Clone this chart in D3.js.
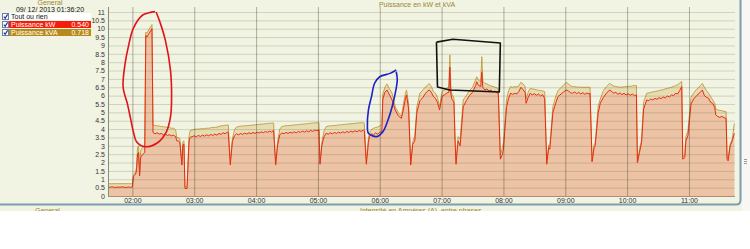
<!DOCTYPE html>
<html>
    <head>
        <meta charset="utf-8">
        <title></title>
        <style media="screen">
            body { margin: 0; background: #fff; }
            svg text { font-family: "Liberation Sans", Arial, sans-serif; font-size: 7px; }
            svg .kva-fill { fill: #e6ddb3; stroke: none; }
            svg .kw-fill { fill: #edc3a5; stroke: none; }
            svg .kva-line { fill: none; stroke: #c6a24c; stroke-width: 1; }
            svg .kw-line { fill: none; stroke: #ee2a14; stroke-width: 1; }
            svg .hgrid line { stroke: rgba(90, 90, 50, .22); }
            svg .vgrid line { stroke: rgba(60, 60, 40, .38); }
            svg .hgrid path, svg .vgrid path, svg .axis path { display: none; }
            svg .axis text { fill: #333; }
            svg .olive { fill: #9a8630; }
            svg .loop { fill: none; stroke-width: 1.6; stroke-linejoin: round; }
        </style>
    </head>
    <body>
        <svg class='drawing'></svg>

        <script src="https://d3js.org/d3.v7.min.js" charset="utf-8"></script>
        <script>
            // [time, kW, kVA]
            var readings = [
                ["01:36", .54, .72], ["01:38", .52, .74], ["01:40", .55, .73], ["01:42", .53, .74],
                ["01:44", .51, .73], ["01:46", .54, .74], ["01:48", .52, .73], ["01:50", .55, .74],
                ["01:52", .53, .74], ["01:54", .51, .73], ["01:56", .54, .74], ["01:58", .52, .73],
                ["02:00", .54, .74], ["02:01", 1.15, 1.3], ["02:02", 1.22, 1.35], ["02:03", 1.3, 1.45],
                ["02:04", 1.5, 1.7], ["02:05", 2.5, 2.9], ["02:06", 2.6, 3.0], ["02:07", 1.2, 1.35],
                ["02:08", 2.3, 2.7], ["02:09", 2.4, 2.85], ["02:11", 2.55, 2.95], ["02:12", 2.6, 3.0],
                ["02:13", 9.6, 9.8], ["02:14", 9.5, 9.72], ["02:16", 9.7, 9.95], ["02:19", 10.0, 10.25],
                ["02:20", 3.8, 4.25], ["02:22", 3.72, 4.2], ["02:24", 3.78, 4.2], ["02:26", 3.7, 4.18],
                ["02:28", 3.74, 4.15], ["02:30", 3.66, 4.15], ["02:32", 3.7, 4.12], ["02:34", 3.62, 4.1],
                ["02:36", 3.66, 4.1], ["02:38", 3.6, 4.05], ["02:40", 3.63, 4.05], ["02:42", 3.55, 3.95],
                ["02:43", 3.3, 3.5], ["02:45", 3.28, 3.48], ["02:46", 3.22, 3.45], ["02:48", 1.85, 2.0],
                ["02:49", 3.05, 3.25], ["02:50", 3.1, 3.3], ["02:51", .45, .55], ["02:53", .45, .55],
                ["02:55", 3.3, 3.6], ["02:56", 3.5, 3.9], ["02:58", 3.55, 3.95], ["03:00", 3.6, 3.98],
                ["03:02", 3.54, 4.0], ["03:04", 3.62, 4.0], ["03:06", 3.56, 4.02], ["03:08", 3.64, 4.02],
                ["03:10", 3.58, 4.03], ["03:12", 3.66, 4.05], ["03:14", 3.6, 4.05], ["03:16", 3.68, 4.08],
                ["03:18", 3.62, 4.1], ["03:20", 3.7, 4.1], ["03:22", 3.64, 4.12], ["03:24", 3.74, 4.15],
                ["03:26", 3.68, 4.2], ["03:28", 3.78, 4.2], ["03:30", 3.72, 4.22], ["03:32", 3.82, 4.25],
                ["03:33", 3.8, 4.25], ["03:35", 1.85, 2.05], ["03:37", 3.25, 3.4], ["03:39", 3.6, 3.95],
                ["03:41", 3.72, 4.12], ["03:43", 3.66, 4.15], ["03:45", 3.74, 4.18], ["03:47", 3.68, 4.18],
                ["03:49", 3.76, 4.2], ["03:51", 3.7, 4.2], ["03:53", 3.78, 4.22], ["03:55", 3.72, 4.22],
                ["03:57", 3.8, 4.25], ["03:59", 3.74, 4.25], ["04:01", 3.82, 4.27], ["04:03", 3.76, 4.28],
                ["04:05", 3.84, 4.3], ["04:07", 3.78, 4.3], ["04:09", 3.86, 4.32], ["04:11", 3.8, 4.33],
                ["04:13", 3.88, 4.35], ["04:15", 3.82, 4.35], ["04:17", 3.92, 4.36], ["04:19", 1.85, 1.95],
                ["04:21", 3.1, 3.3], ["04:23", 3.65, 4.0], ["04:25", 3.78, 4.15], ["04:27", 3.72, 4.18],
                ["04:29", 3.8, 4.2], ["04:31", 3.74, 4.2], ["04:33", 3.82, 4.22], ["04:35", 3.76, 4.23],
                ["04:37", 3.84, 4.25], ["04:39", 3.78, 4.25], ["04:41", 3.86, 4.27], ["04:43", 3.8, 4.28],
                ["04:45", 3.88, 4.3], ["04:47", 3.82, 4.3], ["04:49", 3.9, 4.32], ["04:51", 3.84, 4.33],
                ["04:53", 3.92, 4.35], ["04:55", 3.86, 4.36], ["04:57", 3.94, 4.37], ["04:59", 3.9, 4.38],
                ["05:01", 3.96, 4.38], ["05:02", 1.9, 1.95], ["05:04", 3.1, 3.3], ["05:06", 3.55, 3.9],
                ["05:08", 3.75, 4.15], ["05:10", 3.7, 4.18], ["05:12", 3.78, 4.2], ["05:14", 3.72, 4.2],
                ["05:16", 3.8, 4.22], ["05:18", 3.74, 4.22], ["05:20", 3.82, 4.25], ["05:22", 3.76, 4.25],
                ["05:24", 3.84, 4.27], ["05:26", 3.78, 4.28], ["05:28", 3.86, 4.3], ["05:30", 3.8, 4.3],
                ["05:32", 3.88, 4.32], ["05:34", 3.82, 4.33], ["05:36", 3.9, 4.35], ["05:38", 3.84, 4.35],
                ["05:40", 3.92, 4.37], ["05:42", 3.86, 4.38], ["05:44", 3.95, 4.38], ["05:45", 3.9, 4.35],
                ["05:47", 1.9, 2.05], ["05:49", 3.2, 3.45], ["05:50", 3.55, 3.75], ["05:52", 3.72, 3.98],
                ["05:54", 3.66, 4.05], ["05:56", 3.78, 4.1], ["05:58", 3.7, 4.12], ["06:00", 3.82, 4.2],
                ["06:02", 3.85, 4.25], ["06:03", 5.8, 6.1], ["06:05", 6.2, 6.5], ["06:07", 6.34, 6.7],
                ["06:09", 6.1, 6.45], ["06:12", 5.74, 6.14], ["06:15", 5.14, 5.34], ["06:18", 4.8, 5.0],
                ["06:21", 4.64, 4.74], ["06:23", 5.2, 5.5], ["06:25", 5.85, 6.15], ["06:26", 6.04, 6.34],
                ["06:28", 5.2, 5.5], ["06:30", 1.85, 1.95], ["06:32", 3.1, 3.25], ["06:34", 3.3, 3.6],
                ["06:36", 5.0, 5.34], ["06:39", 5.7, 6.15], ["06:42", 5.9, 6.35], ["06:44", 6.1, 6.5],
                ["06:46", 6.25, 6.6], ["06:48", 6.34, 6.73], ["06:50", 6.2, 6.55], ["06:52", 5.95, 6.25],
                ["06:54", 5.84, 6.14], ["06:56", 5.6, 5.9], ["06:58", 5.14, 5.34], ["07:00", 5.8, 6.1],
                ["07:01", 6.0, 6.3], ["07:03", 6.05, 6.35], ["07:05", 6.15, 6.45], ["07:07", 6.2, 6.5],
                ["07:08", 7.7, 8.43], ["07:09", 6.1, 6.4], ["07:10", 5.8, 6.1], ["07:12", 5.6, 5.85],
                ["07:13", 3.4, 3.6], ["07:14", 1.9, 2.1], ["07:16", 3.3, 3.55], ["07:18", 3.0, 3.4],
                ["07:21", 5.34, 5.74], ["07:24", 5.7, 6.0], ["07:27", 6.0, 6.3], ["07:30", 6.2, 6.5],
                ["07:33", 6.6, 6.95], ["07:34", 6.83, 7.13], ["07:36", 6.6, 6.9], ["07:38", 6.55, 6.83],
                ["07:39", 7.4, 8.33], ["07:40", 6.5, 6.85], ["07:42", 6.34, 6.73], ["07:44", 6.4, 6.7],
                ["07:46", 6.28, 6.62], ["07:48", 6.34, 6.58], ["07:50", 6.22, 6.55], ["07:52", 6.28, 6.5],
                ["07:54", 6.14, 6.45], ["07:55", 6.14, 6.43], ["07:57", 2.2, 2.45], ["07:59", 2.5, 2.9],
                ["08:00", 2.8, 3.2], ["08:03", 5.3, 5.74], ["08:05", 5.85, 6.3], ["08:07", 6.14, 6.54],
                ["08:09", 6.08, 6.5], ["08:11", 6.14, 6.54], ["08:13", 6.1, 6.52], ["08:15", 6.25, 6.6],
                ["08:17", 6.5, 6.8], ["08:19", 6.35, 6.7], ["08:21", 6.2, 6.55], ["08:22", 5.54, 5.8],
                ["08:24", 5.9, 6.2], ["08:26", 6.14, 6.43], ["08:28", 6.05, 6.4], ["08:30", 6.12, 6.38],
                ["08:32", 6.02, 6.35], ["08:34", 6.1, 6.32], ["08:36", 5.98, 6.3], ["08:38", 6.06, 6.28],
                ["08:40", 5.84, 6.24], ["08:42", 1.9, 2.15], ["08:44", 2.9, 3.05], ["08:45", 2.8, 3.0],
                ["08:48", 5.0, 5.34], ["08:51", 5.6, 6.0], ["08:53", 5.95, 6.3], ["08:56", 6.1, 6.5],
                ["08:58", 6.2, 6.6], ["09:01", 6.34, 6.8], ["09:03", 6.28, 6.7], ["09:05", 6.18, 6.6],
                ["09:07", 6.14, 6.54], ["09:09", 6.22, 6.54], ["09:11", 6.12, 6.52], ["09:13", 6.2, 6.5],
                ["09:15", 6.1, 6.5], ["09:17", 6.18, 6.5], ["09:19", 6.08, 6.5], ["09:21", 6.16, 6.5],
                ["09:23", 6.1, 6.5], ["09:24", 6.14, 6.5], ["09:26", 2.05, 2.1], ["09:28", 2.9, 3.1],
                ["09:29", 3.0, 3.15], ["09:32", 5.0, 5.4], ["09:34", 5.55, 5.8], ["09:37", 5.9, 6.3],
                ["09:40", 6.15, 6.55], ["09:43", 6.34, 6.73], ["09:45", 6.25, 6.65], ["09:47", 6.15, 6.58],
                ["09:49", 6.2, 6.55], ["09:51", 6.08, 6.52], ["09:53", 6.16, 6.5], ["09:55", 6.06, 6.52],
                ["09:57", 6.14, 6.52], ["09:59", 6.04, 6.54], ["10:01", 6.12, 6.55], ["10:03", 6.02, 6.56],
                ["10:05", 6.1, 6.58], ["10:07", 6.0, 6.6], ["10:09", 6.05, 6.6], ["10:10", 2.0, 2.0],
                ["10:12", 2.6, 2.8], ["10:14", 3.2, 3.35], ["10:16", 5.2, 5.6], ["10:19", 5.74, 6.14],
                ["10:21", 5.7, 6.16], ["10:23", 5.8, 6.2], ["10:25", 5.74, 6.22], ["10:27", 5.84, 6.25],
                ["10:29", 5.78, 6.27], ["10:31", 5.88, 6.3], ["10:33", 5.82, 6.33], ["10:35", 5.92, 6.35],
                ["10:37", 5.86, 6.4], ["10:39", 5.98, 6.43], ["10:41", 5.92, 6.47], ["10:43", 6.04, 6.5],
                ["10:45", 6.0, 6.55], ["10:47", 6.14, 6.6], ["10:49", 6.1, 6.65], ["10:51", 6.3, 6.75],
                ["10:53", 6.54, 6.85], ["10:54", 2.2, 2.3], ["10:56", 2.3, 2.5], ["10:57", 3.3, 3.55],
                ["10:59", 3.6, 3.9], ["11:02", 5.5, 5.9], ["11:05", 5.85, 6.2], ["11:07", 5.95, 6.35],
                ["11:09", 6.1, 6.45], ["11:11", 6.2, 6.6], ["11:13", 6.34, 6.73], ["11:15", 6.0, 6.5],
                ["11:17", 5.9, 6.3], ["11:19", 5.85, 6.15], ["11:21", 5.6, 5.95], ["11:23", 5.54, 5.74],
                ["11:25", 5.3, 5.55], ["11:26", 4.85, 5.2], ["11:28", 4.74, 5.14], ["11:30", 4.7, 5.12],
                ["11:32", 4.76, 5.1], ["11:34", 4.68, 5.06], ["11:36", 4.64, 5.04], ["11:37", 2.2, 2.26],
                ["11:38", 2.1, 2.3], ["11:40", 3.0, 3.1], ["11:42", 3.3, 3.4], ["11:44", 3.75, 4.34]
            ];

            var yTicks = [0, .5, 1, 1.5, 2, 2.5, 3, 3.5, 4, 4.5, 5, 5.5, 6, 6.5, 7, 7.5, 8, 8.5, 9, 9.5, 10, 10.5, 11];
            var xTicks = ["02:00", "03:00", "04:00", "05:00", "06:00", "07:00", "08:00", "09:00", "10:00", "11:00"];
            var timeSpan = ["01:36:20", "11:44:40"];
            var seriesNames = ["Puissance kW", "Puissance kVA"];
            var cursorValues = [0.540, 0.718];
            var cursorTime = "09/ 12/ 2013 01:36:20";
            var chartTitle = "Puissance en kW et kVA";
            var panelTitle = "General";
            var nextChartTitle = "Intensité en Ampères (A), entre phases";

            // hand drawn marks on the screenshot, in data units
            var redLoop = [["02:22", 11.02], ["02:16", 10.95], ["02:10", 10.82], ["02:01", 10.04], ["01:56", 8.9],
                ["01:53", 7.95], ["01:51", 6.5], ["01:55", 5.55], ["01:58", 4.7], ["02:01", 3.83], ["02:04", 3.25],
                ["02:12", 2.95], ["02:24", 3.17], ["02:33", 3.84], ["02:37", 4.74], ["02:38", 5.74], ["02:37", 7.5],
                ["02:32", 9.3], ["02:27", 10.35], ["02:23", 11.0]];
            var blueLoop = [["06:16", 7.53], ["06:10", 7.33], ["06:00", 7.13], ["05:55", 6.74], ["05:52", 5.94],
                ["05:49", 5.14], ["05:48", 4.14], ["05:49", 3.75], ["05:57", 3.55], ["06:03", 3.84], ["06:08", 4.54],
                ["06:12", 5.34], ["06:15", 6.14], ["06:17", 6.93], ["06:16", 7.43]];
            var blackBox = [["06:55", 9.2], ["07:11", 9.37], ["07:57", 9.15], ["07:56", 6.22], ["07:08", 6.34],
                ["06:56", 6.52], ["06:55", 9.2]];

            var w = 750;
            var h = 249;
            var parse = d3.timeParse("%H:%M");
            var parseS = d3.timeParse("%H:%M:%S");

            var x = d3.scaleTime()
                .domain(timeSpan.map(parseS))
                .range([108, 735]);
            var y = d3.scaleLinear()
                .domain([0, 11])
                .range([196, 12]);

            var rows = readings.map(r => ({t: parse(r[0]), kw: r[1], kva: r[2]}));

            var svg = d3.select('.drawing')
                .attr('width', w)
                .attr('height', h);

            svg.append('rect')
                .attr('width', w).attr('height', 211)
                .attr('fill', '#f1f4e2');

            svg.append('defs').append('clipPath').attr('id', 'plot')
                .append('rect')
                .attr('x', x.range()[0]).attr('y', 0)
                .attr('width', x.range()[1] - x.range()[0]).attr('height', y(0));

            var plot = svg.append('g').attr('clip-path', 'url(#plot)');
            plot.append('path').datum(rows)
                .attr('class', 'kva-fill')
                .attr('d', d3.area().x(d => x(d.t)).y0(y(0)).y1(d => y(d.kva)));
            plot.append('path').datum(rows)
                .attr('class', 'kw-fill')
                .attr('d', d3.area().x(d => x(d.t)).y0(y(0)).y1(d => y(d.kw)));

            // grid over the fills
            svg.append('g')
                .attr('class', 'hgrid')
                .attr('transform', 'translate(' + x.range()[0] + ',0)')
                .call(d3.axisLeft(y).tickValues(yTicks)
                    .tickSize(-(x.range()[1] - x.range()[0])).tickFormat(''));
            svg.append('g')
                .attr('class', 'vgrid')
                .attr('transform', 'translate(0,' + y(0) + ')')
                .call(d3.axisBottom(x).tickValues(xTicks.map(parse))
                    .tickSize(-(y(0) - 7)).tickFormat(''));

            plot.append('path').datum(rows)
                .attr('class', 'kva-line')
                .attr('d', d3.line().x(d => x(d.t)).y(d => y(d.kva)));
            plot.append('path').datum(rows)
                .attr('class', 'kw-line')
                .attr('d', d3.line().x(d => x(d.t)).y(d => y(d.kw)));

            // axes
            svg.append('line')
                .attr('x1', x.range()[0] + .5).attr('x2', x.range()[0] + .5)
                .attr('y1', 7).attr('y2', y(0))
                .attr('stroke', '#8a8a78');
            svg.append('line')
                .attr('x1', x.range()[0]).attr('x2', x.range()[1])
                .attr('y1', y(0) + .5).attr('y2', y(0) + .5)
                .attr('stroke', '#b08c70');

            svg.append('g')
                .attr('class', 'axis')
                .attr('transform', 'translate(' + x.range()[0] + ',0)')
                .call(d3.axisLeft(y).tickValues(yTicks).tickSize(0).tickPadding(3).tickFormat(d => String(d)));
            svg.append('g')
                .attr('class', 'axis')
                .attr('transform', 'translate(0,' + y(0) + ')')
                .call(d3.axisBottom(x).tickValues(xTicks.map(parse)).tickSize(0).tickPadding(2)
                    .tickFormat(d3.timeFormat("%H:%M")));
            svg.selectAll('.axis .tick text').attr('fill', '#333');

            svg.append('text')
                .attr('class', 'olive')
                .attr('x', 417).attr('y', 7)
                .attr('text-anchor', 'middle')
                .text(chartTitle);

            // annotations
            var ann = d3.line().x(d => x(parse(d[0]))).y(d => y(d[1]));
            svg.append('path').datum(redLoop)
                .attr('class', 'loop').attr('stroke', '#e0141a')
                .attr('d', ann.curve(d3.curveCatmullRom)(redLoop));
            svg.append('path').datum(blueLoop)
                .attr('class', 'loop').attr('stroke', '#1c22c8')
                .attr('d', ann.curve(d3.curveCatmullRom)(blueLoop));
            svg.append('path').datum(blackBox)
                .attr('class', 'loop').attr('stroke', '#111')
                .attr('d', ann.curve(d3.curveLinear)(blackBox));

            // legend panel
            svg.append('text')
                .attr('class', 'olive')
                .attr('x', 50).attr('y', 5)
                .attr('text-anchor', 'middle')
                .text(panelTitle);
            svg.append('text')
                .attr('x', 50).attr('y', 11.5)
                .attr('text-anchor', 'middle')
                .attr('fill', '#111')
                .text(cursorTime);

            var legendRows = [{label: "Tout ou rien", value: null, bg: '#fff', fg: '#111'}]
                .concat(seriesNames.map((n, i) => ({
                    label: n, value: cursorValues[i],
                    bg: i == 0 ? '#f41c0c' : '#b98a1a', fg: '#fff'
                })));
            var lg = svg.selectAll('.legend-row')
                .data(legendRows)
                .enter()
                .append('g')
                .attr('class', 'legend-row')
                .attr('transform', (d, i) => 'translate(0,' + (13 + i * 8) + ')');
            lg.append('rect')
                .attr('x', 9).attr('y', 0)
                .attr('width', 82).attr('height', 7)
                .attr('fill', d => d.bg);
            lg.append('rect')
                .attr('x', 2.5).attr('y', .5)
                .attr('width', 6).attr('height', 6)
                .attr('fill', '#fff').attr('stroke', '#6a7fa8');
            lg.append('path')
                .attr('d', 'M3.8,3.6 L5.2,5.4 L7.6,1.4')
                .attr('fill', 'none').attr('stroke', '#1a2fa0').attr('stroke-width', 1.1);
            lg.append('text')
                .attr('x', 11).attr('y', 6)
                .attr('fill', d => d.fg)
                .text(d => d.label);
            lg.filter(d => d.value !== null).append('text')
                .attr('x', 89).attr('y', 6)
                .attr('text-anchor', 'end')
                .attr('fill', '#fff')
                .text(d => d3.format('.3f')(d.value));

            // bottom strip and scroll border
            svg.append('text')
                .attr('class', 'olive')
                .attr('x', 35).attr('y', 212.5)
                .text(panelTitle);
            svg.append('text')
                .attr('class', 'olive')
                .attr('x', 360).attr('y', 213)
                .text(nextChartTitle);
            svg.append('rect')
                .attr('y', 211).attr('width', w).attr('height', h - 211)
                .attr('fill', '#fff');
            svg.append('path')
                .attr('d', 'M0,204.5 L736,204.5 Q740.5,204.5 740.5,200 L740.5,0')
                .attr('fill', 'none').attr('stroke', '#7d9db4').attr('stroke-width', 2);
            svg.append('rect')
                .attr('x', 742).attr('y', 0).attr('width', 8).attr('height', 211)
                .attr('fill', '#f7f7f3');
            svg.append('path')
                .attr('d', 'M744,159.5 h3 M744,161.5 h3 M744,163.5 h3')
                .attr('stroke', '#9a9a9a');
        </script>
    </body>
</html>
